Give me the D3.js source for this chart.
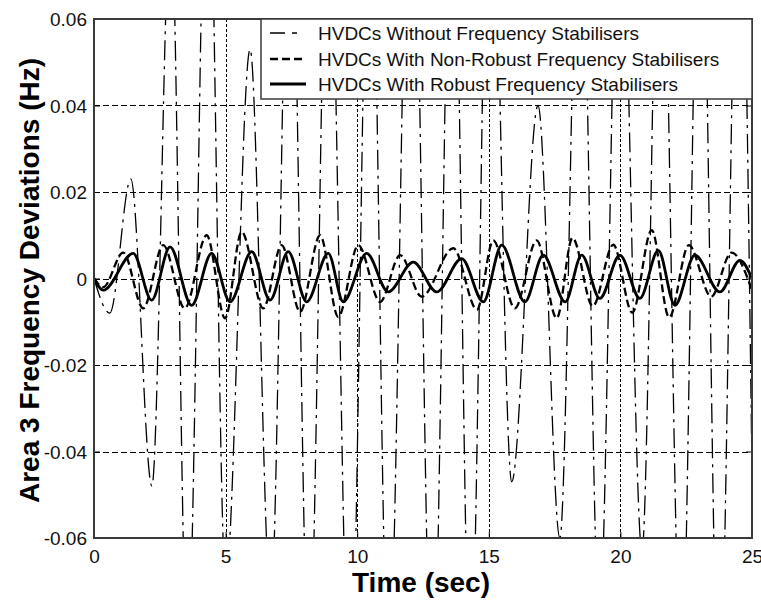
<!DOCTYPE html>
<html>
<head>
<meta charset="utf-8">
<script src="https://cdn.jsdelivr.net/npm/d3@7"></script>
<style>
  body { margin: 0; background: #fff; }
  text { font-family: "Liberation Sans", Arial, sans-serif; }
</style>
</head>
<body>
<div id="chart"></div>
<script>
// time (sec) / deviation (Hz) at turning points
var withoutT = [0, 0.6, 1.4, 2.2, 2.92, 3.55, 4.32, 5.0, 5.93, 6.72, 7.45, 8.17, 8.91, 9.73, 10.49, 11.19, 12.06, 12.86, 13.62, 14.3, 15.05, 15.87, 16.87, 17.7, 18.47, 19.2, 19.98, 20.82, 21.52, 22.32, 23.04, 23.75, 24.52, 25];
var withoutV = [0, -0.008, 0.023, -0.048, 0.085, -0.088, 0.11, -0.07, 0.053, -0.075, 0.1, -0.09, 0.095, -0.1, 0.1, -0.092, 0.115, -0.1, 0.105, -0.092, 0.11, -0.047, 0.04, -0.06, 0.1, -0.08, 0.1, -0.063, 0.105, -0.092, 0.105, -0.1, 0.105, -0.045];

var nonRobustT = [0, 0.35, 1.11, 1.87, 2.63, 3.45, 4.28, 4.98, 5.61, 6.43, 7.13, 7.83, 8.59, 9.28, 10.04, 10.87, 11.63, 12.45, 13.65, 14.55, 15.17, 15.99, 16.82, 17.58, 18.18, 18.95, 19.73, 20.45, 21.19, 21.85, 22.6, 23.45, 24.22, 25];
var nonRobustV = [0, -0.002, 0.006, -0.0069, 0.0077, -0.0069, 0.01, -0.0092, 0.0108, -0.0069, 0.0077, -0.0077, 0.01, -0.0089, 0.0077, -0.0054, 0.0054, -0.0042, 0.007, -0.0072, 0.0088, -0.0069, 0.0088, -0.0092, 0.0094, -0.0064, 0.0078, -0.0079, 0.0112, -0.009, 0.0077, -0.0042, 0.006, -0.0027];

var robustT = [0, 0.35, 1.49, 2.19, 2.89, 3.71, 4.47, 5.17, 5.99, 6.69, 7.38, 8.08, 8.9, 9.47, 10.36, 11.18, 12.13, 13.02, 13.97, 14.79, 15.49, 16.37, 17.07, 17.9, 18.53, 19.22, 19.98, 20.74, 21.44, 22.07, 22.83, 23.78, 24.54, 25];
var robustV = [0, -0.0027, 0.0058, -0.005, 0.0073, -0.0062, 0.0058, -0.0054, 0.0062, -0.005, 0.0062, -0.0054, 0.0058, -0.0054, 0.0058, -0.0031, 0.0038, -0.0031, 0.0046, -0.0054, 0.0077, -0.0054, 0.0054, -0.0054, 0.0054, -0.0046, 0.0054, -0.0046, 0.0065, -0.0062, 0.0054, -0.0031, 0.0042, 0];

var seriesNames = ["HVDCs Without Frequency Stabilisers", "HVDCs With Non-Robust Frequency Stabilisers", "HVDCs With Robust Frequency Stabilisers"];

var xTicks = [0, 5, 10, 15, 20, 25];
var yTicks = [-0.06, -0.04, -0.02, 0, 0.02, 0.04, 0.06];
var yTickLabels = ["-0.06", "-0.04", "-0.02", "0", "0.02", "0.04", "0.06"];

var margin = { top: 19, right: 9, bottom: 63, left: 94 },
    width = 761 - margin.left - margin.right,
    height = 601 - margin.top - margin.bottom;

var x = d3.scaleLinear().domain([0, 25]).range([0, width]);
var y = d3.scaleLinear().domain([-0.06, 0.06]).range([height, 0]);

var svg = d3.select("#chart").append("svg")
    .attr("width", 761)
    .attr("height", 601)
    .append("g")
    .attr("transform", "translate(" + margin.left + "," + margin.top + ")");

svg.append("defs").append("clipPath")
    .attr("id", "plotclip")
    .append("rect")
    .attr("width", width)
    .attr("height", height);

// grid
svg.append("g").selectAll("line")
    .data(yTicks.slice(1, -1))
    .enter().append("line")
    .attr("x1", 0).attr("x2", width)
    .attr("y1", function (d) { return Math.round(y(d)) + 0.5; })
    .attr("y2", function (d) { return Math.round(y(d)) + 0.5; })
    .attr("stroke", "#000")
    .attr("stroke-width", 1)
    .attr("stroke-dasharray", "6,3");

svg.append("g").selectAll("line")
    .data(xTicks.slice(1, -1))
    .enter().append("line")
    .attr("y1", 0).attr("y2", height)
    .attr("x1", function (d) { return Math.round(x(d)) + 0.5; })
    .attr("x2", function (d) { return Math.round(x(d)) + 0.5; })
    .attr("stroke", "#000")
    .attr("stroke-width", 1)
    .attr("stroke-dasharray", "3,2");

var styles = [
    { width: 1.3, dash: "20,6,3,6" },
    { width: 2.3, dash: "8,4" },
    { width: 2.8, dash: null }
];

function toPoints(ts, vs) {
    return ts.map(function (t, i) { return [t, vs[i]]; });
}

var line = d3.line()
    .x(function (d) { return x(d[0]); })
    .y(function (d) { return y(d[1]); })
    .curve(d3.curveMonotoneX);

var series = [toPoints(withoutT, withoutV), toPoints(nonRobustT, nonRobustV), toPoints(robustT, robustV)];

svg.append("g")
    .attr("clip-path", "url(#plotclip)")
    .selectAll("path")
    .data(series)
    .enter().append("path")
    .attr("d", line)
    .attr("fill", "none")
    .attr("stroke", "#000")
    .attr("stroke-linejoin", "round")
    .attr("stroke-width", function (d, i) { return styles[i].width; })
    .attr("stroke-dasharray", function (d, i) { return styles[i].dash; });

// axes
var xAxis = d3.axisBottom(x).tickValues(xTicks).tickSize(-6).tickPadding(12);
var yAxis = d3.axisLeft(y).tickValues(yTicks).tickSize(-6).tickPadding(7)
    .tickFormat(function (d, i) { return yTickLabels[i]; });

svg.append("g")
    .attr("transform", "translate(0," + height + ")")
    .call(xAxis)
    .call(function (g) { g.select(".domain").remove(); })
    .call(function (g) { g.selectAll("text").style("font-size", "19px").attr("fill", "#111"); });

svg.append("g")
    .call(yAxis)
    .call(function (g) { g.select(".domain").remove(); })
    .call(function (g) { g.selectAll("text").style("font-size", "19px").attr("fill", "#111").attr("dy", "0.35em"); });

svg.append("g")
    .attr("transform", "translate(" + width + ",0)")
    .call(d3.axisRight(y).tickValues(yTicks).tickSize(-6).tickFormat(""))
    .call(function (g) { g.select(".domain").remove(); });

svg.append("rect")
    .attr("width", width)
    .attr("height", height)
    .attr("fill", "none")
    .attr("stroke", "#3a3a3a")
    .attr("stroke-width", 2);

// legend
var legend = svg.append("g")
    .attr("transform", "translate(" + (261 - margin.left) + ",0)");

legend.append("rect")
    .attr("width", width - (261 - margin.left))
    .attr("height", 80)
    .attr("fill", "#fff")
    .attr("stroke", "#3a3a3a")
    .attr("stroke-width", 1.5);

var rows = legend.selectAll(".legend")
    .data(seriesNames)
    .enter().append("g")
    .attr("class", "legend")
    .attr("transform", function (d, i) { return "translate(0," + [14, 40, 65][i] + ")"; });

rows.append("line")
    .attr("x1", 9).attr("x2", 45)
    .attr("stroke", "#000")
    .attr("stroke-width", function (d, i) { return styles[i].width + 0.3; })
    .attr("stroke-dasharray", function (d, i) { return i === 0 ? "15,7,5,9" : styles[i].dash; });

rows.append("text")
    .attr("x", 57)
    .attr("dy", "0.35em")
    .style("font-size", "19px")
    .attr("fill", "#111")
    .text(function (d) { return d; });

// axis titles
svg.append("text")
    .attr("x", width / 2 - 2)
    .attr("y", height + 54)
    .attr("text-anchor", "middle")
    .style("font-size", "28px")
    .style("font-weight", "bold")
    .text("Time (sec)");

svg.append("text")
    .attr("transform", "translate(" + (-margin.left + 39) + "," + (height / 2 + 2) + ") rotate(-90)")
    .attr("text-anchor", "middle")
    .style("font-size", "28px")
    .style("font-weight", "bold")
    .text("Area 3 Frequency Deviations (Hz)");
</script>
</body>
</html>
